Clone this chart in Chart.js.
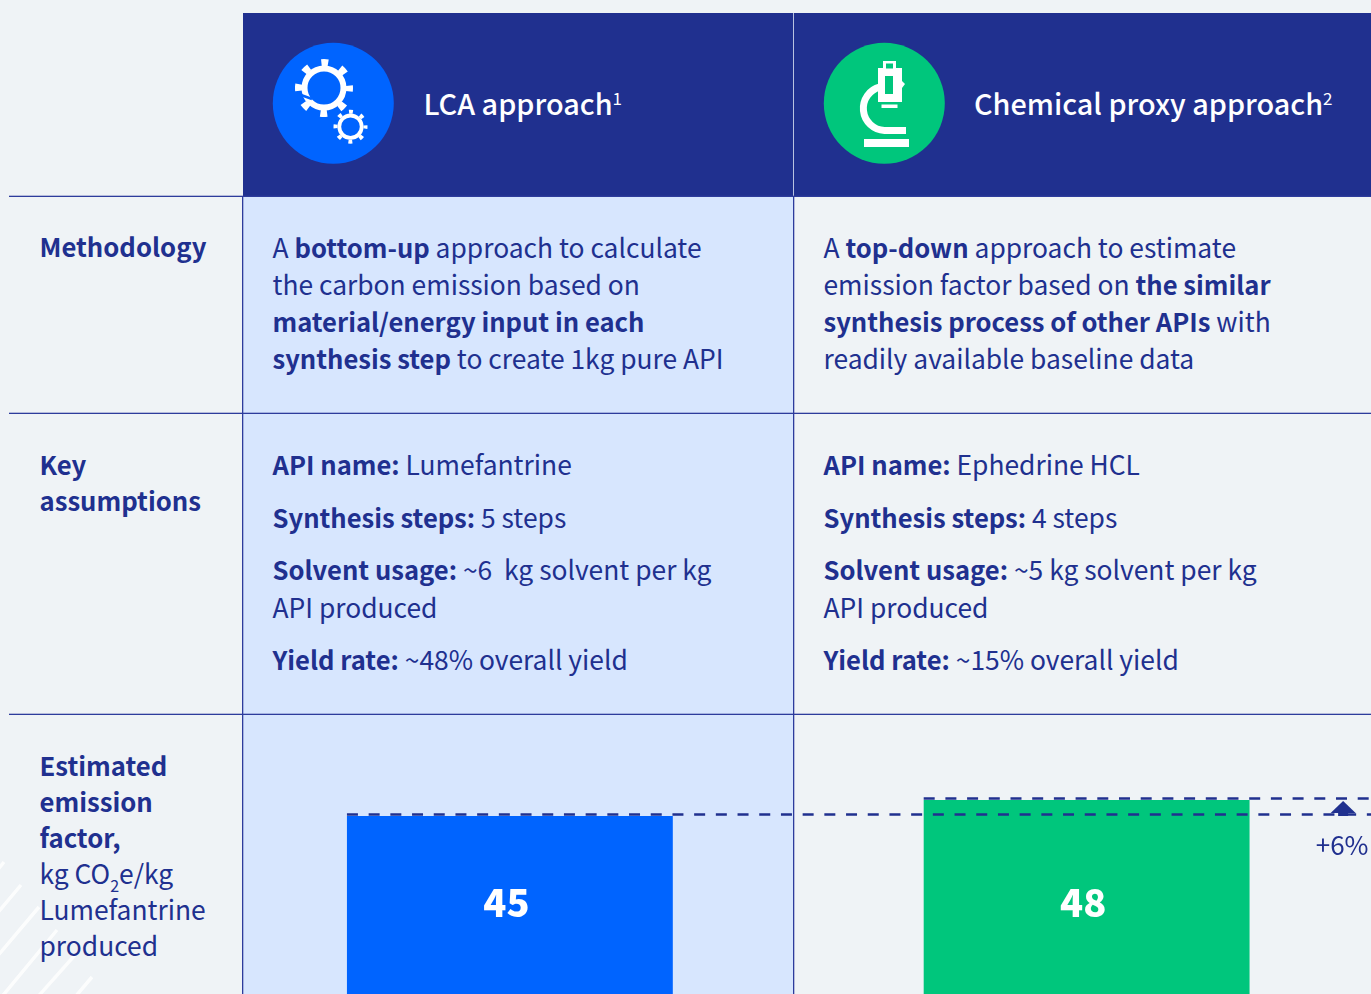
<!DOCTYPE html>
<html>
<head>
<meta charset="utf-8">
<script src="https://cdn.jsdelivr.net/npm/chart.js@4"></script>
<style>
    html, body { margin: 0; padding: 0; }
    body {
        position: relative;
        width: 1371px;
        height: 994px;
        overflow: hidden;
        background: #eff3f6;
        font-family: "Noto Sans CJK SC", "Source Sans Pro", sans-serif;
        color: #20308f;
    }
    .abs { position: absolute; }
    .header { left: 243px; top: 13px; width: 1128px; height: 183px; background: #20308f; }
    .lca-col { left: 243px; top: 196px; width: 550px; height: 798px; background: #d7e6fe; }
    .hline { left: 9px; width: 1362px; height: 1px; background: #2d3c9c; box-shadow: 0 -1px 0 rgba(45, 60, 156, 0.3); }
    .vline { top: 196px; width: 1px; height: 798px; background: #2d3c9c; box-shadow: 1px 0 0 rgba(45, 60, 156, 0.3); }
    .head-rule { top: 13px; width: 1px; height: 183px; background: #b9c2e0; }
    .head-title { top: 83px; color: #fff; font-size: 28.8px; line-height: 40px; font-weight: 500; white-space: nowrap; }
    .head-title sup { font-size: 17px; line-height: 0; vertical-align: 10px; font-weight: 400; }
    .txt { font-size: 26.4px; line-height: 37.3px; white-space: nowrap; }
    .side { left: 39.5px; font-size: 25.7px; line-height: 36px; white-space: nowrap; font-weight: 700; }
    .side span { font-weight: 400; font-size: 26.4px; }
    .side sub { font-size: 16px; line-height: 0; vertical-align: -8px; }
    b { font-weight: 700; font-size: 25.6px; }
    canvas { position: absolute; left: 221px; top: 700px; }
</style>
</head>
<body>
    <svg class="abs" style="left:0;top:840px" width="120" height="154">
        <g stroke="#fff" stroke-width="3.5" fill="none" opacity="0.85">
            <path d="M4 22 L-4 32"/>
            <path d="M21 45 L-10 82"/>
            <path d="M39 67 L-10 125"/>
            <path d="M57 90 L-5 165"/>
            <path d="M75 115 L35 160"/>
            <path d="M92 137 L70 163"/>
        </g>
    </svg>

    <div class="abs lca-col"></div>
    <div class="abs header"></div>
    <div class="abs head-rule" style="left:793px"></div>
    <div class="abs vline" style="left:242px"></div>
    <div class="abs vline" style="left:793px"></div>
    <div class="abs hline" style="top:196px"></div>
    <div class="abs hline" style="top:413px"></div>
    <div class="abs hline" style="top:714px"></div>

    <!-- header icons -->
    <svg class="abs" style="left:0;top:0" width="1371" height="200">
        <circle cx="333.3" cy="103.3" r="60.5" fill="#0064ff"/>
        <g fill="none" stroke="#fff">
            <circle cx="324" cy="88" r="19.5" stroke-width="6"/>
            <circle cx="324" cy="88" r="25.5" stroke-width="7" stroke-dasharray="7 13.03" stroke-dashoffset="3.5"/>
            <circle cx="350.5" cy="126.7" r="11.2" stroke-width="3.8"/>
            <circle cx="350.5" cy="126.7" r="15" stroke-width="4" stroke-dasharray="4 7.78" stroke-dashoffset="2"/>
            <path d="M301 95 L312 99" stroke="#0064ff" stroke-width="2.5"/>
        </g>
        <circle cx="884.3" cy="103.3" r="60.5" fill="#00c67c"/>
        <g fill="#fff">
            <rect x="864" y="139" width="45" height="8"/>
            <path d="M880 87 A22.1 22.1 0 0 0 884.5 130.5 L906 130.5" fill="none" stroke="#fff" stroke-width="7"/>
            <rect x="878" y="68" width="24" height="34"/>
            <rect x="885" y="76" width="8" height="18" fill="#00c67c"/>
            <rect x="883" y="61" width="13" height="8"/>
            <rect x="886" y="63.5" width="7" height="5" fill="#00c67c"/>
            <rect x="881.5" y="104.5" width="16" height="3.5"/>
            <path d="M902 81 L905 84 L902 88 Z"/>
        </g>
    </svg>

    <div class="abs head-title" style="left:423.5px">LCA approach<sup>1</sup></div>
    <div class="abs head-title" style="left:974px">Chemical proxy approach<sup>2</sup></div>

    <div class="abs side" style="top:228px">Methodology</div>
    <div class="abs side" style="top:445.5px">Key<br>assumptions</div>
    <div class="abs side" style="top:747px">Estimated<br>emission<br>factor,<br><span>kg CO<sub>2</sub>e/kg<br>Lumefantrine<br>produced</span></div>

    <div class="abs txt" style="left:272.5px;top:227.5px">A <b>bottom-up</b> approach to calculate<br>the carbon emission based on<br><b>material/energy input in each<br>synthesis step</b> to create 1kg pure API</div>
    <div class="abs txt" style="left:823.5px;top:227.5px">A <b>top-down</b> approach to estimate<br>emission factor based on <b>the similar<br>synthesis process of other APIs</b> with<br>readily available baseline data</div>

    <div class="abs txt" style="left:272.5px;top:445px"><b>API name:</b> Lumefantrine</div>
    <div class="abs txt" style="left:272.5px;top:498px"><b>Synthesis steps:</b> 5 steps</div>
    <div class="abs txt" style="left:272.5px;top:550px;line-height:38px"><b>Solvent usage:</b> ~6&nbsp; kg solvent per kg<br>API produced</div>
    <div class="abs txt" style="left:272.5px;top:640px"><b>Yield rate:</b> ~48% overall yield</div>

    <div class="abs txt" style="left:823.5px;top:445px"><b>API name:</b> Ephedrine HCL</div>
    <div class="abs txt" style="left:823.5px;top:498px"><b>Synthesis steps:</b> 4 steps</div>
    <div class="abs txt" style="left:823.5px;top:550px;line-height:38px"><b>Solvent usage:</b> ~5 kg solvent per kg<br>API produced</div>
    <div class="abs txt" style="left:823.5px;top:640px"><b>Yield rate:</b> ~15% overall yield</div>

    <canvas id="emission" width="1154" height="356"></canvas>

<script>
const CATEGORIES = ['LCA approach', 'Chemical proxy approach'];
const EMISSION_VALUES = [45, 48];
const BAR_COLORS = ['#0064ff', '#00c67c'];
const DELTA_LABEL = '+6%';

const navy = '#20308f';
const fontName = '"Noto Sans CJK SC", sans-serif';

// dashed guides, the arrow and the labels inside the bars
const annotations = {
    id: 'annotations',
    afterDatasetsDraw(chart) {
        const ctx = chart.ctx;
        const x = chart.scales.x;
        const y = chart.scales.y;
        const right = chart.width;

        ctx.save();
        ctx.strokeStyle = navy;
        ctx.lineWidth = 2.5;
        ctx.setLineDash([11, 10.7]);
        EMISSION_VALUES.forEach((value, i) => {
            const meta = chart.getDatasetMeta(0).data[i];
            const top = y.getPixelForValue(value) - 1.5;
            ctx.beginPath();
            ctx.moveTo(meta.x - meta.width / 2, top);
            ctx.lineTo(right, top);
            ctx.stroke();
        });
        ctx.setLineDash([]);

        // arrow between the two guides
        const arrowX = x.getPixelForValue(1) + 256.5;
        const tip = y.getPixelForValue(EMISSION_VALUES[1]) + 1;
        const base = y.getPixelForValue(EMISSION_VALUES[0]) - 3;
        ctx.fillStyle = navy;
        ctx.beginPath();
        ctx.moveTo(arrowX, tip);
        ctx.lineTo(arrowX + 12.5, base);
        ctx.lineTo(arrowX - 12.5, base);
        ctx.closePath();
        ctx.fill();
        ctx.fillRect(arrowX - 5, base, 10, 3);

        ctx.font = '400 26px ' + fontName;
        ctx.textAlign = 'center';
        ctx.textBaseline = 'middle';
        ctx.fillText(DELTA_LABEL, arrowX - 1, 145);

        ctx.fillStyle = '#fff';
        ctx.font = '900 38px ' + fontName;
        EMISSION_VALUES.forEach((value, i) => {
            const meta = chart.getDatasetMeta(0).data[i];
            ctx.fillText(String(value), meta.x - 3.5, 203);
        });
        ctx.restore();
    }
};

new Chart(document.getElementById('emission'), {
    type: 'bar',
    data: {
        labels: CATEGORIES,
        datasets: [{
            label: 'Estimated emission factor',
            data: EMISSION_VALUES,
            backgroundColor: BAR_COLORS,
            borderWidth: 0,
            barPercentage: 0.565,
            categoryPercentage: 1
        }]
    },
    options: {
        responsive: false,
        animation: false,
        layout: { padding: { top: 100, left: 0.5 } },
        plugins: {
            legend: { display: false },
            tooltip: { enabled: false }
        },
        scales: {
            x: { display: false, offset: true },
            y: { display: false, min: 0, max: 48 }
        }
    },
    plugins: [annotations]
});
</script>
</body>
</html>
